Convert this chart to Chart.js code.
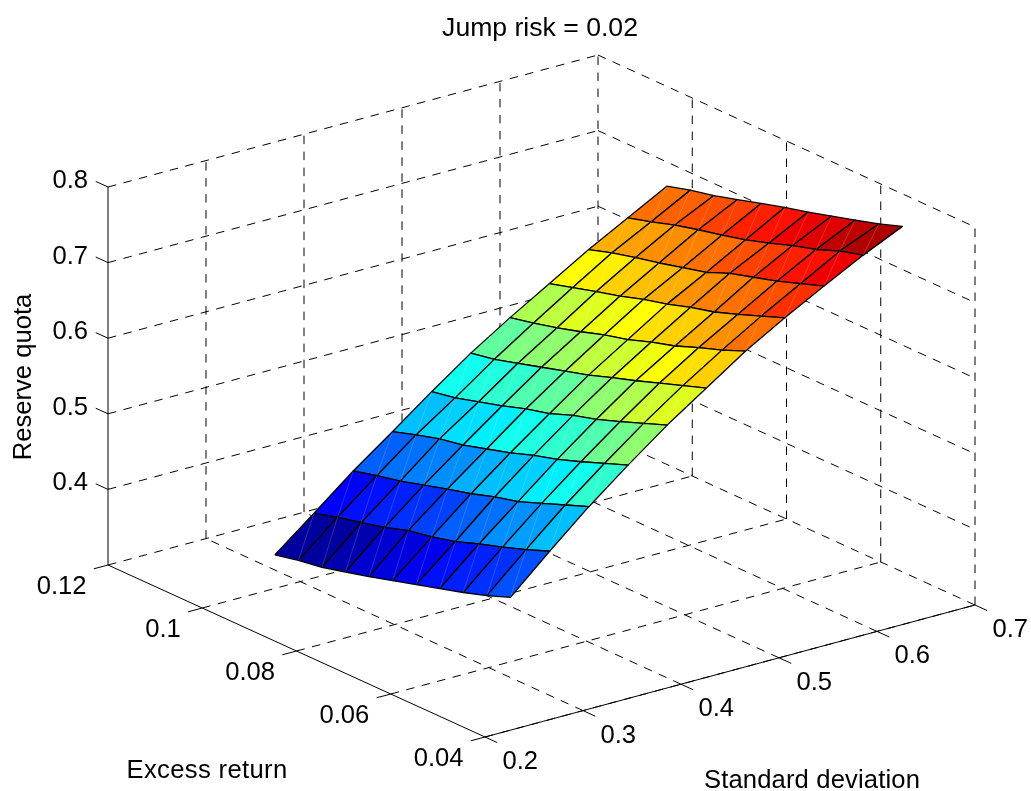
<!DOCTYPE html>
<html>
<head>
<meta charset="utf-8">
<script src="https://cdn.jsdelivr.net/npm/chart.js@4/dist/chart.umd.js"></script>
<style>html,body{margin:0;padding:0;background:#fff}canvas{display:block}</style>
</head>
<body>
<canvas id="c" width="1031" height="791"></canvas>
<script>
// ---- axis ticks
const stdTicks = [0.2, 0.3, 0.4, 0.5, 0.6, 0.7];
const excessTicks = [0.12, 0.1, 0.08, 0.06, 0.04];
const quotaTicks = [0.8, 0.7, 0.6, 0.5, 0.4];
const titleText = "Jump risk = 0.02";
const xLabelText = "Standard deviation";
const yLabelText = "Excess return";
const zLabelText = "Reserve quota";

// ---- surface grid
const stdDev = [0.30, 0.34, 0.38, 0.42, 0.46, 0.50, 0.54, 0.58, 0.62, 0.66, 0.70];
const excessReturn = [0.1054, 0.1004, 0.0954, 0.0904, 0.0854, 0.0804, 0.0754, 0.0704, 0.0654, 0.0604, 0.0554];

// ---- reserve quota, one list per standard deviation (excess return high to low)
const quota030 = [.320,.327,.332,.340,.348,.357,.366,.375,.384,.394,.406];
const quota034 = [.361,.370,.377,.385,.395,.401,.409,.420,.430,.441,.453];
const quota038 = [.403,.411,.418,.427,.436,.444,.454,.462,.474,.486,.498];
const quota042 = [.441,.451,.460,.466,.475,.484,.495,.504,.515,.527,.539];
const quota046 = [.480,.486,.495,.504,.514,.522,.534,.543,.554,.566,.578];
const quota050 = [.517,.523,.532,.541,.550,.559,.570,.580,.591,.602,.613];
const quota054 = [.550,.557,.565,.574,.584,.592,.603,.612,.624,.635,.648];
const quota058 = [.581,.590,.599,.607,.617,.625,.635,.643,.654,.666,.678];
const quota062 = [.612,.622,.630,.637,.645,.653,.666,.675,.684,.695,.706];
const quota066 = [.640,.649,.659,.667,.674,.682,.692,.703,.712,.724,.733];
const quota070 = [.668,.677,.684,.693,.702,.711,.719,.728,.737,.746,.757];
const quota = [quota030,quota034,quota038,quota042,quota046,quota050,quota054,quota058,quota062,quota066,quota070];

// ---- oblique view of the 3D box onto the flat chart plane
const box = {sMin:0.2, sMax:0.7, eMin:0.04, eMax:0.12, zMin:0.3, zMax:0.8};
const view = {ox:108, oy:565, sx:980, sy:-264, ex:4712.5, ey:2150, zy:-756};
function project(s, e, z){
  return {
    x: view.ox + view.sx*(s-box.sMin) + view.ex*(box.eMax-e),
    y: view.oy + view.sy*(s-box.sMin) + view.ey*(box.eMax-e) + view.zy*(z-box.zMin)
  };
}

// ---- jet colour map, 64 steps
function jet(t){
  const idx = Math.min(63, Math.max(0, Math.floor(t*64)));
  const T = (idx+1)/64;
  const c = v => Math.round(255*Math.max(0, Math.min(1, v)));
  return `rgb(${c(Math.min(4*T-1.5,-4*T+4.5))},${c(Math.min(4*T-0.5,-4*T+3.5))},${c(Math.min(4*T+0.5,-4*T+2.5))})`;
}

// ---- datasets
const datasets = [];
let drawOrder = 100000;
function addLine(points, opts){
  datasets.push(Object.assign({
    data: points, showLine:true, pointRadius:0, pointHoverRadius:0, tension:0,
    borderColor:'#000', borderWidth:1, fill:false, order:drawOrder--, clip:false
  }, opts||{}));
}
const dash = {borderDash:[8.5,7.5], borderWidth:1};
const {sMin,sMax,eMin,eMax,zMin,zMax} = box;
const wallLevels = quotaTicks;
// walls: level lines
wallLevels.forEach(z=>{
  addLine([project(sMin,eMax,z),project(sMax,eMax,z)],dash);
  addLine([project(sMax,eMax,z),project(sMax,eMin,z)],dash);
});
// walls: uprights
stdTicks.slice(1).forEach(s=>addLine([project(s,eMax,zMin),project(s,eMax,zMax)],dash));
excessTicks.slice(1).forEach(e=>addLine([project(sMax,e,zMin),project(sMax,e,zMax)],dash));
// floor
stdTicks.slice(1).forEach(s=>addLine([project(s,eMin,zMin),project(s,eMax,zMin)],dash));
excessTicks.forEach(e=>addLine([project(sMin,e,zMin),project(sMax,e,zMin)],dash));
// solid axes
addLine([project(sMin,eMax,zMin),project(sMin,eMax,zMax)]);
addLine([project(sMin,eMax,zMin),project(sMin,eMin,zMin)]);
addLine([project(sMin,eMin,zMin),project(sMax,eMin,zMin)]);
// tick marks
quotaTicks.forEach(z=>addLine([project(sMin,eMax,z),project(sMin,eMax+0.0026,z)]));
excessTicks.forEach(e=>addLine([project(sMin,e,zMin),project(sMin-0.0145,e,zMin)]));
stdTicks.forEach(s=>addLine([project(s,eMin,zMin),project(s,eMin-0.0026,zMin)]));

// surface facets, far row first
const zLow = Math.min(...quota.flat()), zHigh = Math.max(...quota.flat());
for(let i=stdDev.length-2;i>=0;i--){
  for(let j=0;j<excessReturn.length-1;j++){
    const p = (a,b)=>project(stdDev[a],excessReturn[b],quota[a][b]);
    const colour = jet((quota[i][j+1]-zLow)/(zHigh-zLow));
    addLine([p(i,j),p(i,j+1),p(i+1,j+1),p(i+1,j),p(i,j)],
      {fill:'shape',backgroundColor:colour,borderColor:'#000',borderWidth:1.3,borderJoinStyle:'round'});
  }
}
// faint seams across each facet, drawn over the fills but under nothing else
for(let i=0;i<stdDev.length-1;i++){
  for(let j=0;j<excessReturn.length-1;j++){
    const p = (a,b)=>project(stdDev[a],excessReturn[b],quota[a][b]);
    addLine([p(i,j+1),p(i+1,j)],{borderColor:'rgba(255,255,255,0.28)',borderWidth:0.6});
  }
}

// ---- real text labels, placed from the same scales
const textPlugin = {
  id:'axisText',
  afterDraw(chart){
    const ctx = chart.ctx, X = chart.scales.x, Y = chart.scales.y;
    const at = pt => ({x:X.getPixelForValue(pt.x), y:Y.getPixelForValue(pt.y)});
    const font = '25.6px "Liberation Sans", Arial, sans-serif';
    ctx.save();
    ctx.fillStyle='#000';
    ctx.textBaseline='middle';
    ctx.font=font;
    ctx.textAlign='right';
    quotaTicks.forEach(z=>{const p=at(project(sMin,eMax,z));ctx.fillText(String(z),p.x-20,p.y-6);});
    excessTicks.forEach(e=>{const p=at(project(sMin,e,zMin));ctx.fillText(String(e),p.x-21.5,p.y+22);});
    ctx.textAlign='left';
    stdTicks.forEach(s=>{const p=at(project(s,eMin,zMin));ctx.fillText(String(s),p.x+17.5,p.y+25);});
    ctx.textAlign='center';
    ctx.letterSpacing='0.35px';
    ctx.fillText(yLabelText,X.getPixelForValue(207),Y.getPixelForValue(771));
    ctx.letterSpacing='0.15px';
    ctx.fillText(xLabelText,X.getPixelForValue(812),Y.getPixelForValue(781));
    ctx.letterSpacing='0px';
    ctx.font='26.6px "Liberation Sans", Arial, sans-serif';
    ctx.fillText(titleText,X.getPixelForValue(540),Y.getPixelForValue(29));
    ctx.font=font;
    ctx.translate(X.getPixelForValue(24),Y.getPixelForValue(377));
    ctx.rotate(-Math.PI/2);
    ctx.fillText(zLabelText,0,0);
    ctx.restore();
  }
};

new Chart(document.getElementById('c'),{
  type:'scatter',
  data:{datasets},
  options:{
    responsive:false, animation:false, events:[],
    layout:{padding:0},
    plugins:{legend:{display:false},tooltip:{enabled:false},title:{display:false}},
    scales:{
      x:{type:'linear',min:0,max:1031,display:false},
      y:{type:'linear',min:0,max:791,reverse:true,display:false}
    }
  },
  plugins:[textPlugin]
});
</script>
</body>
</html>
